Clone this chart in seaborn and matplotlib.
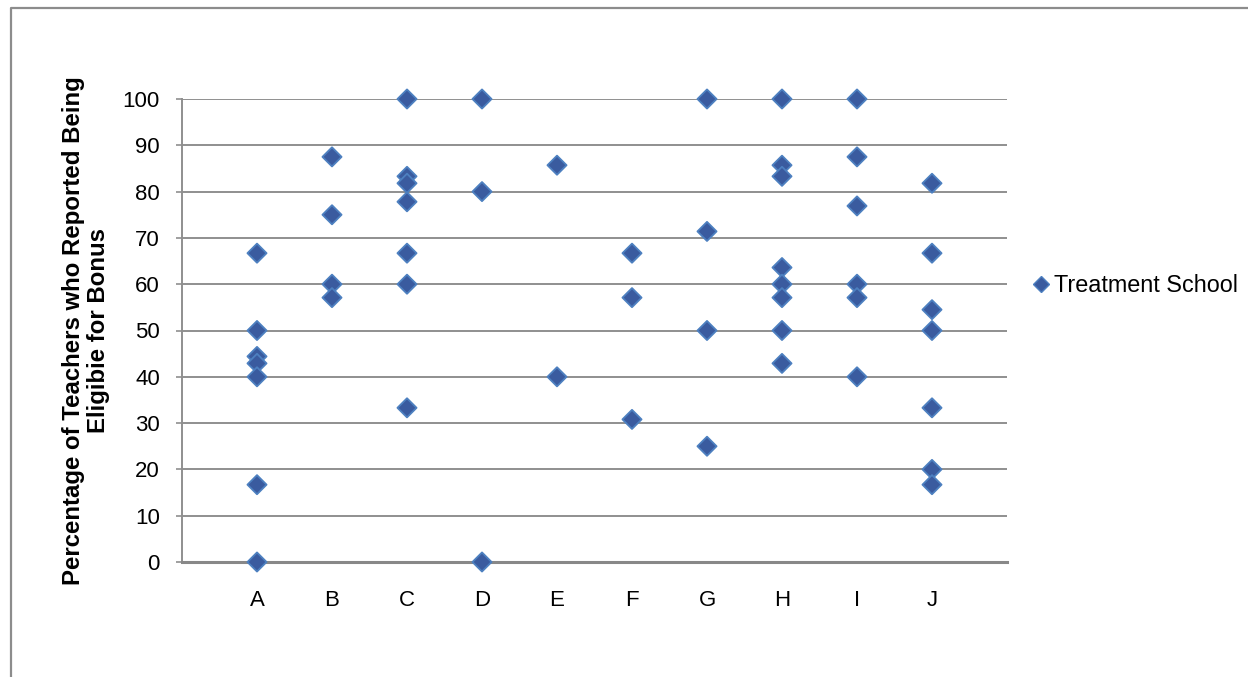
import matplotlib
matplotlib.use("Agg")
import matplotlib.pyplot as plt
from matplotlib.lines import Line2D
import seaborn as sns
import pandas as pd

# ---- data ----
categories = ["A", "B", "C", "D", "E", "F", "G", "H", "I", "J"]
school_A = [66.7, 50.0, 44.4, 42.9, 40.0, 16.7, 0.0]
school_B = [87.5, 75.0, 60.0, 57.1]
school_C = [100.0, 83.3, 81.8, 77.8, 66.7, 60.0, 33.3]
school_D = [100.0, 80.0, 0.0]
school_E = [85.7, 40.0]
school_F = [66.7, 57.1, 30.8]
school_G = [100.0, 71.4, 50.0, 25.0]
school_H = [100.0, 85.7, 83.3, 63.6, 60.0, 57.1, 50.0, 42.9]
school_I = [100.0, 87.5, 76.9, 60.0, 57.1, 40.0]
school_J = [81.8, 66.7, 54.5, 50.0, 33.3, 20.0, 16.7]
y_ticks = [0, 10, 20, 30, 40, 50, 60, 70, 80, 90, 100]
series_name = "Treatment School"
y_label = "Percentage of Teachers who Reported Being\nEligibie for Bonus"

values = [school_A, school_B, school_C, school_D, school_E,
          school_F, school_G, school_H, school_I, school_J]
rows = []
for i, (cat, vals) in enumerate(zip(categories, values)):
    for v in vals:
        rows.append({"pos": i + 1, "school": cat, "pct": v, "series": series_name})
df = pd.DataFrame(rows)

sns.set_theme(style="white")
plt.rcParams["font.family"] = ["Liberation Sans", "DejaVu Sans"]
plt.rcParams["text.color"] = "black"
plt.rcParams["axes.labelcolor"] = "black"

W, H = 1248, 677
fig = plt.figure(figsize=(W / 100, H / 100), dpi=100)
ax = fig.add_axes([182 / W, (H - 562) / H, (1007 - 182) / W, (562 - 99) / H])

grid_col = "#8f8f8f"
sns.scatterplot(data=df, x="pos", y="pct", hue="series", palette=["#3A5B9F"],
                marker="D", s=95, edgecolor="#4D80C0", linewidth=1.3,
                ax=ax, zorder=3, legend=True, clip_on=False)

ax.set_xlim(0, 11)
ax.set_ylim(0, 100)
ax.set_xticks(range(1, len(categories) + 1))
ax.set_xticklabels(categories)
ax.set_yticks(y_ticks)
ax.set_xlabel("")
ax.set_ylabel(y_label, fontsize=17.3, fontweight="bold", color="black", linespacing=1.1)
ax.yaxis.set_label_coords(-0.087, 0.5)

ax.grid(axis="y", color=grid_col, linewidth=1.4)
ax.set_axisbelow(True)
for side in ["top", "right"]:
    ax.spines[side].set_visible(False)
ax.spines["left"].set_color(grid_col)
ax.spines["left"].set_linewidth(1.4)
ax.spines["bottom"].set_color("#888888")
ax.spines["bottom"].set_linewidth(2.2)

ax.tick_params(axis="y", which="major", left=True, length=4, width=1.2,
               color=grid_col, pad=12, labelsize=16, labelcolor="black", direction="out")
ax.tick_params(axis="x", which="major", bottom=False, length=0, pad=20,
               labelsize=16, labelcolor="black")

# legend
ax.get_legend().remove()
handle = Line2D([], [], marker="D", linestyle="none", markersize=8,
                markerfacecolor="#3A5B9F", markeredgecolor="#4D80C0", markeredgewidth=1.0)
fig.legend([handle], [series_name], loc="center left",
           bbox_to_anchor=(1020 / W, 1 - 286 / H), frameon=False,
           fontsize=16.8, handletextpad=0.05, handlelength=1.0, borderaxespad=0,
           labelcolor="black")

# chart-area border (left and top only visible in the reference)
bx, by = 11 / W, 1 - 8 / H
fig.add_artist(Line2D([bx, bx, 1.01], [-0.01, by, by], transform=fig.transFigure,
                      color="#8c8c8c", linewidth=1.6))

fig.savefig("out.png", dpi=100)
